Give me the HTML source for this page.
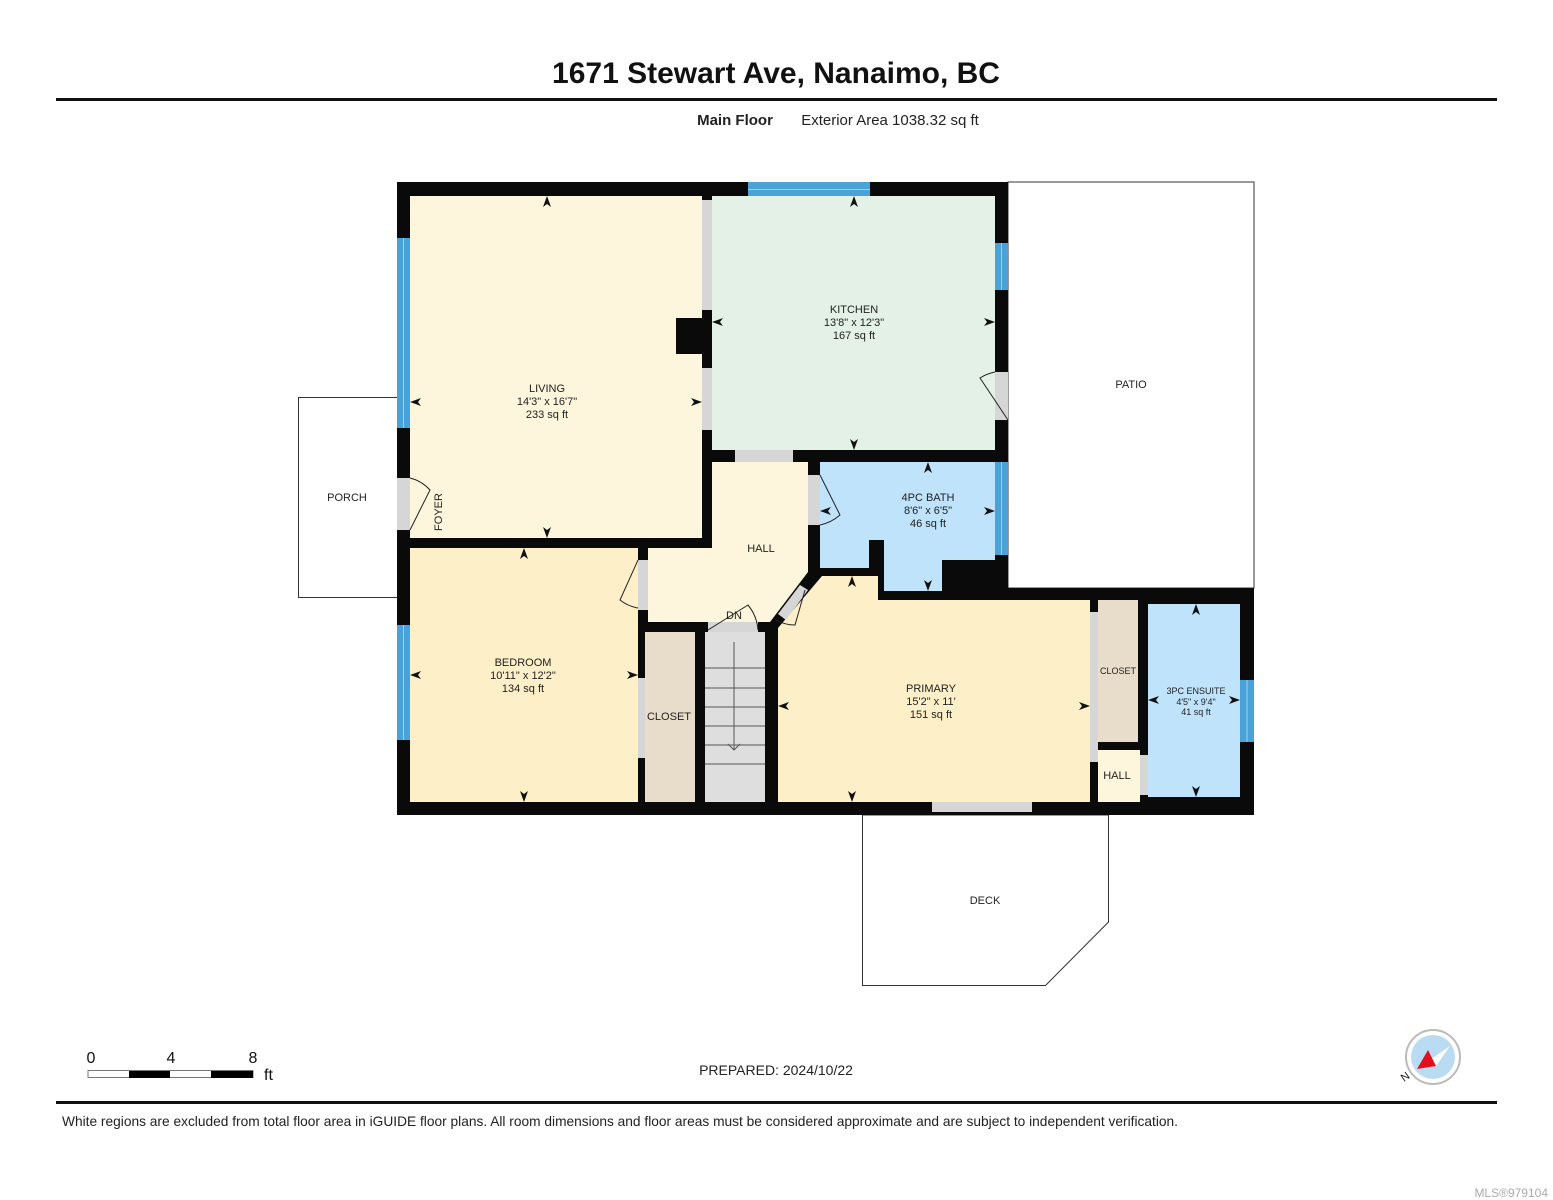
<!DOCTYPE html>
<html><head><meta charset="utf-8"><style>
html,body{margin:0;padding:0;background:#fff;}
svg{display:block;font-family:"Liberation Sans",Arial,sans-serif;}
</style></head><body>
<svg width="1553" height="1200" viewBox="0 0 1553 1200" xmlns="http://www.w3.org/2000/svg">
<text x="776" y="83" text-anchor="middle" font-size="30" font-weight="bold" fill="#111">1671 Stewart Ave, Nanaimo, BC</text>
<rect x="56" y="98" width="1441" height="3" fill="#111"/>
<text x="735" y="125" text-anchor="middle" font-size="15" font-weight="bold" fill="#222">Main Floor</text>
<text x="890" y="125" text-anchor="middle" font-size="15" fill="#222">Exterior Area 1038.32 sq ft</text>

<rect x="1008" y="182" width="246" height="406" fill="#fff" stroke="#333" stroke-width="1"/>
<rect x="298.5" y="397.5" width="99" height="200" fill="#fff" stroke="#333" stroke-width="1"/>
<polygon points="862.5,815 862.5,985.5 1045.5,985.5 1108.5,922 1108.5,815" fill="#fff" stroke="#333" stroke-width="1"/>

<polygon points="397,182 1008,182 1008,588 1254,588 1254,815 397,815" fill="#0a0a0a"/>

<rect x="410" y="196" width="292" height="342" fill="#fdf6dc"/>
<rect x="712" y="196" width="283" height="254" fill="#e3f1e6"/>
<polygon points="648,548 712,548 712,462 808,462 808,572 770,622 648,622" fill="#fdf6dc"/>
<polygon points="820,462 995,462 995,560 942,560 942,591 884,591 884,540 869,540 869,568 820,568" fill="#bfe3fb"/>
<polygon points="778,628 822,576 878,576 878,600 1090,600 1090,802 778,802" fill="#fdefc8"/>
<rect x="410" y="548" width="228" height="254" fill="#fdefc8"/>
<rect x="645" y="632" width="50" height="170" fill="#e8dccb"/>
<rect x="705" y="632" width="60" height="170" fill="#dedede"/>
<g stroke="#555" stroke-width="1">
<line x1="705" y1="668" x2="765" y2="668"/><line x1="705" y1="688" x2="765" y2="688"/><line x1="705" y1="707" x2="765" y2="707"/><line x1="705" y1="726" x2="765" y2="726"/><line x1="705" y1="745" x2="765" y2="745"/><line x1="705" y1="764" x2="765" y2="764"/>
<line x1="734" y1="642" x2="734" y2="750"/><polyline points="728,744 734,750 740,744" fill="none"/>
</g>
<rect x="1098" y="600" width="40" height="142" fill="#e8dccb"/>
<rect x="1098" y="750" width="42" height="52" fill="#fdf6dc"/>
<rect x="1148" y="604" width="92" height="193" fill="#bfe3fb"/>

<g fill="#d6d6d6">
<rect x="702" y="200" width="10" height="110"/>
<rect x="702" y="368" width="10" height="62"/>
<rect x="735" y="450" width="58" height="12"/>
<rect x="397" y="478" width="13" height="52"/>
<rect x="995" y="372" width="13" height="48"/>
<rect x="808" y="475" width="12" height="50"/>
<rect x="638" y="560" width="10" height="50"/>
<rect x="708" y="622" width="50" height="10"/>
<polygon points="778,614 800,585 808,590 786,620"/>
<rect x="638" y="678" width="7" height="80"/>
<rect x="1090" y="612" width="8" height="150"/>
<rect x="1140" y="755" width="8" height="40"/>
<rect x="932" y="802" width="100" height="10"/>
</g>
<rect x="676" y="318" width="36" height="36" fill="#0a0a0a"/>
<g fill="none" stroke="#222" stroke-width="1">
<path d="M410,530 L430,490 A40,40 0 0 0 410,478"/>
<path d="M1008,420 L980,378 A44,44 0 0 1 995,372"/>
<path d="M820,475 L840,515 A44,44 0 0 1 820,525"/>
<path d="M638,560 L620,600 A40,40 0 0 0 638,608"/>
<path d="M708,630 L748,605 A45,45 0 0 1 758,630"/>
<path d="M805,590 L795,625 A40,40 0 0 1 776,620"/>
</g>

<g fill="#4aa3d8">
<rect x="397" y="238" width="13" height="190"/>
<rect x="397" y="625" width="13" height="115"/>
<rect x="748" y="182" width="122" height="14"/>
<rect x="995" y="243" width="13" height="47"/>
<rect x="995" y="462" width="13" height="93"/>
<rect x="1240" y="680" width="14" height="62"/>
</g>
<g stroke="#9fd0ee" stroke-width="1">
<line x1="403.5" y1="238" x2="403.5" y2="428"/><line x1="403.5" y1="625" x2="403.5" y2="740"/>
<line x1="748" y1="189.5" x2="870" y2="189.5"/><line x1="1001.5" y1="243" x2="1001.5" y2="290"/>
<line x1="1001.5" y1="462" x2="1001.5" y2="555"/><line x1="1247" y1="680" x2="1247" y2="742"/>
</g>

<g fill="#111">
<polygon points="547,196 543,207 547,204 551,207"/><polygon points="547,538 543,527 547,530 551,527"/>
<polygon points="410,402 421,398 418,402 421,406"/><polygon points="702,402 691,398 694,402 691,406"/>
<polygon points="854,196 850,207 854,204 858,207"/><polygon points="854,450 850,439 854,442 858,439"/>
<polygon points="712,322 723,318 720,322 723,326"/><polygon points="995,322 984,318 987,322 984,326"/>
<polygon points="928,462 924,473 928,470 932,473"/><polygon points="928,591 924,580 928,583 932,580"/>
<polygon points="820,511 831,507 828,511 831,515"/><polygon points="995,511 984,507 987,511 984,515"/>
<polygon points="524,548 520,559 524,556 528,559"/><polygon points="524,802 520,791 524,794 528,791"/>
<polygon points="410,675 421,671 418,675 421,679"/><polygon points="638,675 627,671 630,675 627,679"/>
<polygon points="852,576 848,587 852,584 856,587"/><polygon points="852,802 848,791 852,794 856,791"/>
<polygon points="778,706 789,702 786,706 789,710"/><polygon points="1090,706 1079,702 1082,706 1079,710"/>
<polygon points="1196,604 1192,615 1196,612 1200,615"/><polygon points="1196,797 1192,786 1196,789 1200,786"/>
<polygon points="1148,700 1159,696 1156,700 1159,704"/><polygon points="1240,700 1229,696 1232,700 1229,704"/>
</g>

<g fill="#222" text-anchor="middle" font-size="11">
<text x="547" y="392">LIVING</text><text x="547" y="405">14'3" x 16'7"</text><text x="547" y="418">233 sq ft</text>
<text x="854" y="313">KITCHEN</text><text x="854" y="326">13'8" x 12'3"</text><text x="854" y="339">167 sq ft</text>
<text x="928" y="501">4PC BATH</text><text x="928" y="514">8'6" x 6'5"</text><text x="928" y="527">46 sq ft</text>
<text x="523" y="666">BEDROOM</text><text x="523" y="679">10'11" x 12'2"</text><text x="523" y="692">134 sq ft</text>
<text x="931" y="692">PRIMARY</text><text x="931" y="705">15'2" x 11'</text><text x="931" y="718">151 sq ft</text>
<text x="1196" y="694" font-size="9">3PC ENSUITE</text><text x="1196" y="705" font-size="9">4'5" x 9'4"</text><text x="1196" y="715" font-size="9">41 sq ft</text>
<text x="1118" y="674" font-size="9">CLOSET</text>
<text x="1117" y="779">HALL</text>
<text x="669" y="720">CLOSET</text>
<text x="761" y="552">HALL</text>
<text x="734" y="619">DN</text>
<text x="1131" y="388">PATIO</text>
<text x="347" y="501">PORCH</text>
<text x="985" y="904">DECK</text>
<text x="442" y="512" transform="rotate(-90 442 512)">FOYER</text>
</g>

<g font-size="16" fill="#111">
<text x="91" y="1063" text-anchor="middle">0</text><text x="171" y="1063" text-anchor="middle">4</text><text x="253" y="1063" text-anchor="middle">8</text>
<text x="264" y="1080">ft</text>
</g>
<rect x="88" y="1070.5" width="165" height="7" fill="#fff" stroke="#777" stroke-width="1"/>
<rect x="129" y="1071" width="41" height="7" fill="#000"/>
<rect x="211" y="1071" width="42" height="7" fill="#000"/>

<text x="776" y="1075" text-anchor="middle" font-size="14" fill="#222">PREPARED: 2024/10/22</text>

<circle cx="1433" cy="1057" r="27" fill="#fff" stroke="#bbb" stroke-width="2"/>
<circle cx="1433" cy="1057" r="22" fill="#b9dcf3"/>
<polygon points="1417,1069 1450,1046 1436,1066" fill="#fff"/>
<polygon points="1417,1069 1428,1050 1436,1066" fill="#e01020"/>
<text x="1404" y="1082" font-size="11" fill="#111" transform="rotate(-35 1404 1082)">N</text>

<rect x="56" y="1101" width="1441" height="3" fill="#111"/>
<text x="62" y="1126" font-size="14" fill="#222" textLength="1116" lengthAdjust="spacingAndGlyphs">White regions are excluded from total floor area in iGUIDE floor plans. All room dimensions and floor areas must be considered approximate and are subject to independent verification.</text>
<text x="1548" y="1197" text-anchor="end" font-size="12" fill="#aaa">MLS®979104</text>
</svg>
</body></html>
